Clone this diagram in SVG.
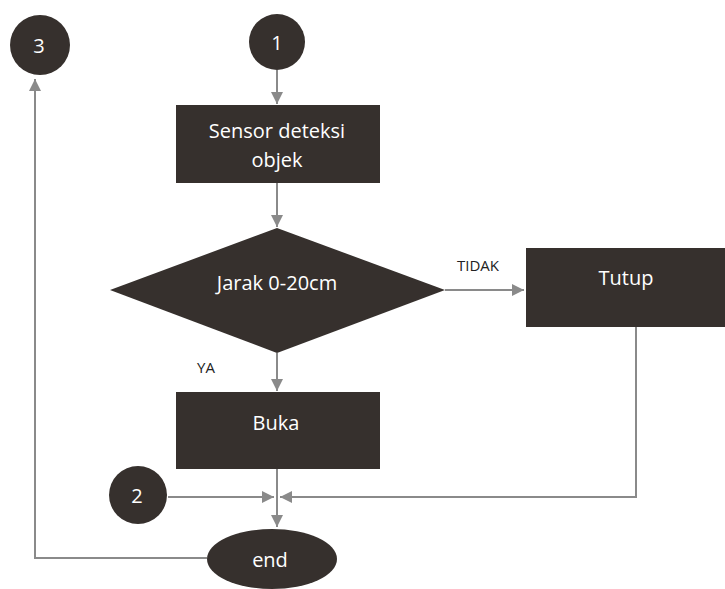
<svg xmlns="http://www.w3.org/2000/svg" width="725" height="589" viewBox="0 0 725 589">
  <style>
    .node { fill: #36302d; }
    .lbl { fill: #ffffff; font-family: "Open Sans", "DejaVu Sans", sans-serif; font-size: 20px; text-anchor: middle; }
    .edge { fill: none; stroke: #8a8a8a; stroke-width: 2; }
    .elbl { fill: #222222; font-family: "Open Sans", "DejaVu Sans", sans-serif; font-size: 15px; text-anchor: middle; }
  </style>
  <defs>
    <marker id="arrow" viewBox="0 0 10 10" refX="10" refY="5" markerWidth="6" markerHeight="6" orient="auto" markerUnits="strokeWidth">
      <path d="M0,0 L10,5 L0,10 z" fill="#8a8a8a"/>
    </marker>
  </defs>
  <rect width="725" height="589" fill="#ffffff"/>

  <g id="connectors">
    <line class="edge" x1="277" y1="70" x2="277" y2="104" marker-end="url(#arrow)"/>
    <line class="edge" x1="277" y1="183" x2="277" y2="227" marker-end="url(#arrow)"/>
    <line class="edge" x1="445" y1="290" x2="524" y2="290" marker-end="url(#arrow)"/>
    <line class="edge" x1="277" y1="353" x2="277" y2="391" marker-end="url(#arrow)"/>
    <line class="edge" x1="277" y1="469" x2="277" y2="527" marker-end="url(#arrow)"/>
    <line class="edge" x1="168" y1="497" x2="274" y2="497" marker-end="url(#arrow)"/>
    <polyline class="edge" points="636,327 636,497 280,497" marker-end="url(#arrow)"/>
    <polyline class="edge" points="207,558 35,558 35,79" marker-end="url(#arrow)"/>
    <text class="elbl" x="478" y="271">TIDAK</text>
    <text class="elbl" x="206" y="373">YA</text>
  </g>

  <g id="node-3">
    <circle class="node" cx="40" cy="45" r="30"/>
    <text class="lbl" x="39" y="53">3</text>
  </g>
  <g id="node-1">
    <circle class="node" cx="277" cy="42" r="28"/>
    <text class="lbl" x="277" y="50">1</text>
  </g>
  <g id="sensor">
    <rect class="node" x="176" y="105" width="204" height="78"/>
    <text class="lbl" x="277" y="138">Sensor deteksi</text>
    <text class="lbl" x="277" y="167">objek</text>
  </g>
  <g id="jarak">
    <polygon class="node" points="277,228 445,290 277,353 110,290"/>
    <text class="lbl" x="277" y="290">Jarak 0-20cm</text>
  </g>
  <g id="tutup">
    <rect class="node" x="526" y="248" width="199" height="79"/>
    <text class="lbl" x="626" y="285">Tutup</text>
  </g>
  <g id="buka">
    <rect class="node" x="176" y="392" width="204" height="77"/>
    <text class="lbl" x="276" y="430">Buka</text>
  </g>
  <g id="node-2">
    <circle class="node" cx="138" cy="495" r="29"/>
    <text class="lbl" x="137" y="503">2</text>
  </g>
  <g id="end">
    <ellipse class="node" cx="272" cy="559" rx="65" ry="30"/>
    <text class="lbl" x="270" y="567">end</text>
  </g>
</svg>
